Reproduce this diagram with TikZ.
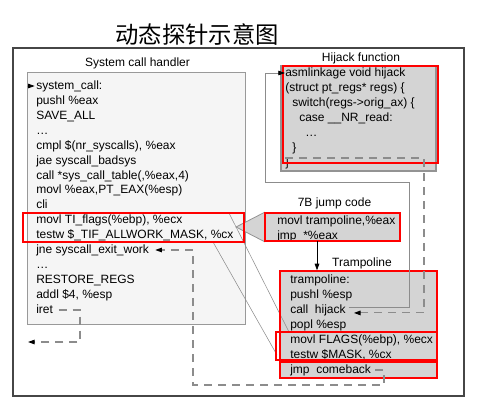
\documentclass[tikz,border=0pt]{standalone}
\usepackage{fontspec}
\setmainfont{Liberation Sans}
\newfontfamily\cjk{Noto Sans CJK SC}
\usetikzlibrary{arrows.meta,fit}

\begin{document}
\begin{tikzpicture}[x=0.75pt, y=-0.75pt, >={Triangle[length=5pt,width=3.4pt,color=black]},
    lightbox/.style={draw=gray!80, fill=gray!8, line width=0.6pt, inner sep=0pt},
    codebox/.style={draw=gray!85, fill=gray!34, line width=0.9pt, inner sep=0pt},
    redframe/.style={draw=red, line width=2pt, inner sep=0pt},
    code/.style={anchor=west, inner sep=0pt, text height=6.6pt, text depth=1.9pt, font=\fontsize{9}{11}\selectfont},
    boxtitle/.style={inner sep=0pt, font=\fontsize{9}{11}\selectfont},
    flowline/.style={draw=gray!90, line width=0.6pt},
    flowdash/.style={draw=gray!90, line width=0.8pt, dash pattern=on 6pt off 4.5pt}]
    \useasboundingbox (0,0) rectangle (481,410);

    % Coordinates for the boxes
    \coordinate (HA) at (27,72);   \coordinate (HB) at (245,324);
    \coordinate (JA) at (281,66);  \coordinate (JB) at (436,171);
    \coordinate (BA) at (265,213); \coordinate (BB) at (400,241);
    \coordinate (TA) at (280,271); \coordinate (TB) at (437,378);

    % Outer frame and title
    \draw[draw=gray!55!black, line width=1.1pt] (13,48) rectangle (464,396);
    \node[inner sep=0pt, font=\cjk\fontsize{17.5}{20}\selectfont] (title) at (197,35) {动态探针示意图};

    % Draw the boxes
    \node[lightbox, fit=(HA)(HB)] (handler) {};
    \node[codebox, fit=(JA)(JB)] (hijack) {};
    \node[codebox, fit=(BA)(BB)] (jump) {};

    % Callout from the handler to the jump code
    \coordinate (callout) at (236,227);
    \draw[draw=gray!85, fill=gray!34, line width=0.6pt] (callout) -- (jump.north west) -- (jump.south west) -- cycle;

    \node[codebox, fit=(TA)(TB)] (tramp) {};

    % Box titles
    \node[boxtitle] (handlertitle) at (137.5,63) {System call handler};
    \node[boxtitle] (hijacktitle) at (361,58) {Hijack function};
    \node[boxtitle] (jumptitle) at (334.5,203) {7B jump code};
    \node[boxtitle] (tramptitle) at (362,263) {Trampoline};

    % System call handler code
    \node[code] (h1) at (36,86) {system\_call:};
    \node[code] (h2) at (36,101) {pushl \%eax};
    \node[code] (h3) at (36,116) {SAVE\_ALL};
    \node[code] (h4) at (36,131) {\ldots};
    \node[code] (h5) at (36,146) {cmpl \$(nr\_syscalls), \%eax};
    \node[code] (h6) at (36,161) {jae syscall\_badsys};
    \node[code] (h7) at (36,176) {call *sys\_call\_table(,\%eax,4)};
    \node[code] (h8) at (36,190.5) {movl \%eax,PT\_EAX(\%esp)};
    \node[code] (h9) at (36,205.5) {cli};
    \node[code] (h10) at (36,220) {movl TI\_flags(\%ebp), \%ecx};
    \node[code] (h11) at (36,235) {testw \$\_TIF\_ALLWORK\_MASK, \%cx};
    \node[code] (h12) at (36,250) {jne syscall\_exit\_work};
    \node[code] (h13) at (36,265) {\ldots};
    \node[code] (h14) at (36,280) {RESTORE\_REGS};
    \node[code] (h15) at (36,295) {addl \$4, \%esp};
    \node[code] (h16) at (36,310) {iret};

    % Hijack function code
    \node[code] (j1) at (285,73) {asmlinkage void hijack};
    \node[code] (j2) at (285,88) {(struct pt\_regs* regs) \{};
    \node[code] (j3) at (292,103) {switch(regs->orig\_ax) \{};
    \node[code] (j4) at (299,118) {case \_\_NR\_read:};
    \node[code] (j5) at (305,133) {\ldots};
    \node[code] (j6) at (292,148) {\}};
    \node[code] (j7) at (285,163) {\}};

    % 7B jump code
    \node[code] (b1) at (277,221) {movl trampoline,\%eax};
    \node[code] (b2) at (277,236) {jmp\ \ *\%eax};

    % Trampoline code
    \node[code] (t1) at (290,280) {trampoline:};
    \node[code] (t2) at (290,295) {pushl \%esp};
    \node[code] (t3) at (290,310) {call\ \ hijack};
    \node[code] (t4) at (290,325) {popl \%esp};
    \node[code] (t5) at (290,340) {movl FLAGS(\%ebp), \%ecx};
    \node[code] (t6) at (290,355) {testw \$MASK, \%cx};
    \node[code] (t7) at (290,370) {jmp\ \ comeback};

    % Lines from the handler to the copied instructions
    \coordinate (zoomA) at (229,213); \coordinate (zoomB) at (213,242);
    \coordinate (copyA) at (289,332); \coordinate (copyB) at (277,355);
    \draw[flowline, line width=0.4pt] (zoomA) -- (copyA);
    \draw[flowline, line width=0.4pt] (zoomB) -- (copyB);

    % Red highlight frames
    \node[redframe, fit={(23,213) (244,242)}] (redcall) {};
    \node[redframe, fit={(283,66) (438,163)}] (redhijack) {};
    \node[redframe, fit={(265,213) (400,241)}] (redjump) {};
    \node[redframe, fit={(280,271) (437,378)}] (redtramp) {};
    \node[redframe, fit={(276,332) (437,360)}] (redcheck) {};
    \node[redframe, fit={(280,362) (437,378)}] (redback) {};

    % Entry into the handler
    \draw[->, flowline] (handler.west |- h1.west) -- ([xshift=-1pt]h1.west);

    % 7B jump code down to the trampoline
    \coordinate (jmpdown) at (317,241);
    \draw[->, draw=black, line width=0.6pt] (jmpdown) -- (jmpdown |- tramp.north);

    % Call into the hijack function
    \coordinate (callturn) at (409,182);
    \coordinate (hijackturn) at (265,182);
    \draw[->, flowline] ([xshift=2pt,yshift=2pt]t3.east) -| (callturn) -- (hijackturn) |- (j1.west);

    % Return from the hijack function
    \coordinate (hijackret) at (285,158);
    \coordinate (retturn) at (424,158);
    \draw[->, flowdash] (hijackret) -- (retturn) |- ([xshift=6pt,yshift=-2.2pt]t3.east);

    % Jump back to the handler
    \coordinate (jmpback) at (384,385);
    \coordinate (jnecorner) at (193,385);
    \draw[->, flowdash] ([xshift=3pt]t7.east) -| (jmpback) -- (jnecorner) |- ([xshift=4.5pt]h12.east);

    % Leaving the handler
    \coordinate (iretcorner) at (80,342);
    \coordinate (iretout) at (28,342);
    \draw[->, flowdash] ([xshift=4pt]h16.east) -| (iretcorner) -- (iretout);
\end{tikzpicture}
\end{document}
